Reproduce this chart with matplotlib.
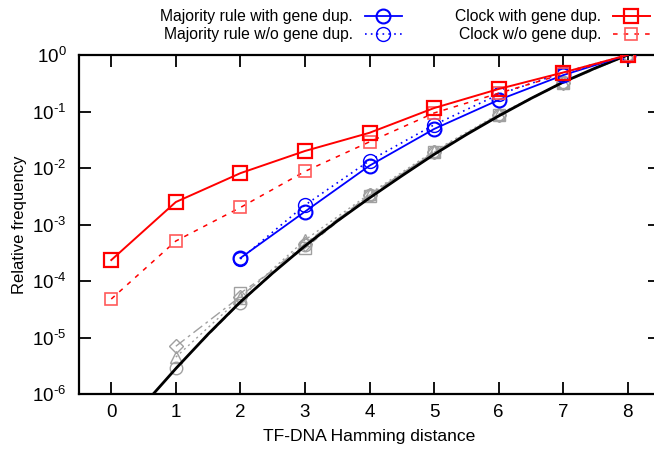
import matplotlib
matplotlib.use("Agg")
import matplotlib.pyplot as plt
import numpy as np
from matplotlib.ticker import FixedLocator, FuncFormatter, NullLocator

plt.rcParams['font.family'] = ['Liberation Sans', 'DejaVu Sans']
plt.rcParams['mathtext.default'] = 'regular'

# Datos
dist = [0, 1, 2, 3, 4, 5, 6, 7, 8]
clock_dup = [2.35e-4, 2.5e-3, 8.1e-3, 0.020, 0.042, 0.115, 0.25, 0.49, 1.0]
clock_nodup = [4.8e-5, 5.1e-4, 2.0e-3, 8.7e-3, 0.029, 0.094, 0.21, 0.46, 1.0]

dist_maj = [2, 3, 4, 5, 6, 7, 8]
maj_dup = [2.55e-4, 1.69e-3, 0.011, 0.049, 0.16, 0.44, 1.0]
maj_nodup = [2.45e-4, 2.2e-3, 0.0135, 0.058, 0.20, 0.49, 1.0]

dist_gray = [1, 2, 3, 4, 5, 6, 7, 8]
gray_circ = [2.9e-6, 4.1e-5, 4.4e-4, 3.3e-3, 0.019, 0.088, 0.33, 1.0]
gray_tri = [4.5e-6, 5.0e-5, 5.3e-4, 3.5e-3, 0.020, 0.090, 0.33, 1.0]
gray_dia = [7.0e-6, 5.3e-5, 4.6e-4, 3.3e-3, 0.019, 0.087, 0.32, 1.0]
dist_sq = [2, 3, 4, 5, 6, 7, 8]
gray_sq = [6.1e-5, 3.8e-4, 3.2e-3, 0.019, 0.085, 0.32, 1.0]

# Curva teorica (log10 de la frecuencia)
dist_teo = [0.65, 1, 1.5, 2, 2.5, 3, 3.5, 4, 4.5, 5, 5.5, 6, 6.5, 7, 7.5, 8]
log_teo = [-6.0, -5.55, -4.94, -4.37, -3.86, -3.38, -2.94, -2.53, -2.14,
           -1.76, -1.41, -1.08, -0.77, -0.48, -0.23, 0.0]

exponentes = [-6, -5, -4, -3, -2, -1, 0]

fig = plt.figure(figsize=(6.54, 4.53), dpi=100)
ax = fig.add_axes([79 / 654, 59 / 453, 581 / 654, 339 / 453])

gris = "#a0a0a0"
ax.plot(dist_gray, gray_circ, color=gris, ls=(0, (6, 3)), lw=1, marker="o", ms=9,
        mfc="none", mec=gris, mew=1, zorder=2)
ax.plot(dist_gray, gray_tri, color=gris, ls=(0, (1.5, 2.5)), lw=1, marker="^", ms=9,
        mfc="none", mec=gris, mew=1, zorder=2)
ax.plot(dist_gray, gray_dia, color=gris, ls=(0, (8, 3, 2, 3)), lw=1, marker="D", ms=7,
        mfc="none", mec=gris, mew=1, zorder=2)
ax.plot(dist_sq, gray_sq, color=gris, ls=(0, (4, 4)), lw=1, marker="s", ms=9,
        mfc="none", mec=gris, mew=1, zorder=2)

ax.plot(dist_teo, 10 ** np.array(log_teo), color="black", lw=2, zorder=3)

ax.plot(dist_maj, maj_nodup, color="#0000ff", ls=(0, (1, 2.5)), lw=1.2, marker="o",
        ms=10, mfc="none", mec="#0000ff", mew=1, label="Majority rule w/o gene dup.", zorder=4)
ax.plot(dist_maj, maj_dup, color="#0000ff", lw=1.3, marker="o", ms=10, mfc="none",
        mec="#0000ff", mew=1.5, label="Majority rule with gene dup.", zorder=5)

ax.plot(dist, clock_nodup, color="#ff0000", ls=(0, (3, 4)), lw=1.1, marker="s", ms=9,
        mfc="none", mec="#ff5a5a", mew=1.2, label="Clock w/o gene dup.", zorder=6)
ax.plot(dist, clock_dup, color="#ff0000", lw=1.4, marker="s", ms=10, mfc="none",
        mec="#ff0000", mew=1.6, label="Clock with gene dup.", zorder=7)

ax.set_yscale("log")
ax.set_ylim(1e-6, 1)
ax.set_xlim(-0.5, 8.5)
ax.set_xticks(dist)
ax.yaxis.set_major_locator(FixedLocator([10.0 ** e for e in exponentes]))
ax.yaxis.set_minor_locator(NullLocator())

def etiqueta(v, pos):
    e = int(round(np.log10(v)))
    signo = "\u2010" if e < 0 else ""
    return "$10^{" + signo + str(abs(e)) + "}$"

ax.yaxis.set_major_formatter(FuncFormatter(etiqueta))
ax.tick_params(direction="in", length=8.5, width=1.3, labelsize=13.5,
               top=True, right=True)
ax.tick_params(axis="y", pad=9)
ax.tick_params(axis="x", pad=7)
for s in ax.spines.values():
    s.set_linewidth(1.6)

ax.set_xlabel("TF-DNA Hamming distance", fontsize=12.6, labelpad=6)
ax.set_ylabel("Relative frequency", fontsize=12, labelpad=4)

h, l = ax.get_legend_handles_labels()
orden = [1, 0, 3, 2]
fig.legend([h[i] for i in orden], [l[i] for i in orden], ncol=2, markerfirst=False,
           loc="upper right", bbox_to_anchor=(650 / 654, 1 - 9 / 453), frameon=False,
           fontsize=11.3, handlelength=2.36, handletextpad=0.76, columnspacing=3.4,
           labelspacing=0.22, borderpad=0, borderaxespad=0)

fig.savefig("out.png", dpi=100)
